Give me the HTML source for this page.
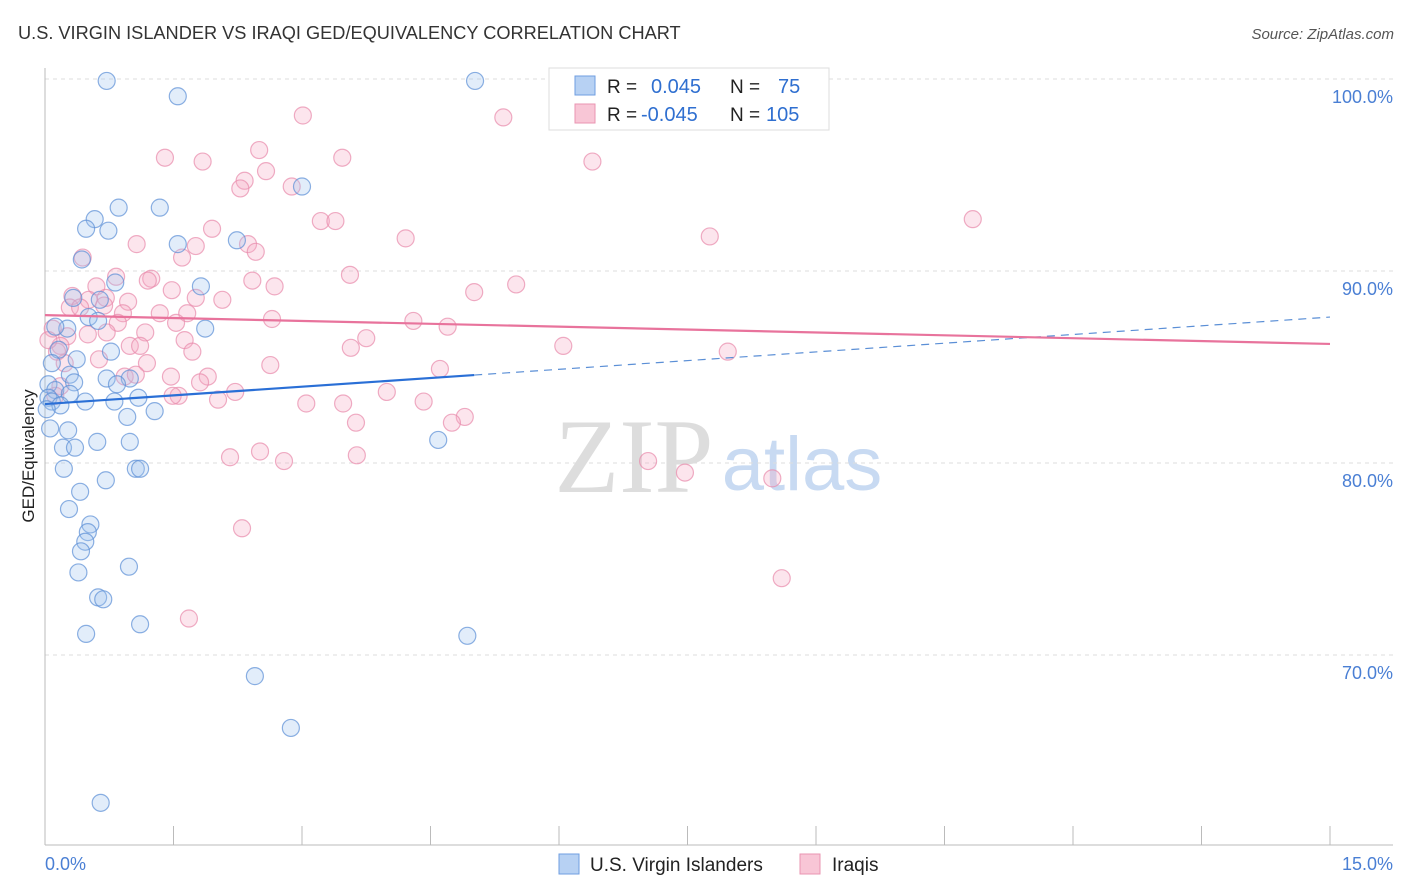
<!DOCTYPE html>
<html><head><meta charset="utf-8"><style>
body{margin:0;background:#fff;font-family:"Liberation Sans",sans-serif;}
#wrap{position:relative;width:1406px;height:892px;overflow:hidden;}
</style></head><body>
<div id="wrap">
<svg id="svg" width="1406" height="892">
<text x="18" y="39" font-size="18.2" fill="#333">U.S. VIRGIN ISLANDER VS IRAQI GED/EQUIVALENCY CORRELATION CHART</text>
<text x="1394" y="39" font-size="15" fill="#555" font-style="italic" text-anchor="end">Source: ZipAtlas.com</text>
<text x="634" y="492" font-size="106" fill="#ddd" font-family="Liberation Serif,serif" text-anchor="middle">ZIP</text>
<text x="802" y="490" font-size="76" fill="#c8daf2" text-anchor="middle">atlas</text>
<text transform="translate(34,456) rotate(-90)" font-size="17" fill="#222" text-anchor="middle">GED/Equivalency</text>
<g id="grid"></g><g id="marks"></g><g id="trend"></g>
<text x="45" y="870" font-size="18" fill="#4a7fd4">0.0%</text>
<text x="1393" y="870" font-size="18" fill="#4a7fd4" text-anchor="end">15.0%</text>
<g>
<rect x="549" y="68" width="280" height="62" fill="#fff" stroke="#ddd"/>
<rect x="575" y="76" width="20" height="19" fill="#b7d1f3" stroke="#6f9ee0"/>
<rect x="575" y="104" width="20" height="19" fill="#f8c6d6" stroke="#ea94b2"/>
<text x="607" y="93" font-size="19" fill="#222">R =</text><text x="651" y="93" font-size="20" fill="#2f6fd0">0.045</text>
<text x="730" y="93" font-size="19" fill="#222">N =</text><text x="778" y="93" font-size="20" fill="#2f6fd0">75</text>
<text x="607" y="121" font-size="19" fill="#222">R =</text><text x="641" y="121" font-size="20" fill="#2f6fd0">-0.045</text>
<text x="730" y="121" font-size="19" fill="#222">N =</text><text x="766" y="121" font-size="20" fill="#2f6fd0">105</text>
</g>
<g>
<rect x="559" y="854" width="20" height="20" fill="#b7d1f3" stroke="#6f9ee0"/>
<text x="590" y="871" font-size="19" fill="#222">U.S. Virgin Islanders</text>
<rect x="800" y="854" width="20" height="20" fill="#f8c6d6" stroke="#ea94b2"/>
<text x="832" y="871" font-size="19" fill="#222">Iraqis</text>
</g>
</svg></div>
<script>
const yTicks=[100,90,80,70];
const yTickLabels=["100.0%","90.0%","80.0%","70.0%"];
const xTicks=[0,1.5,3,4.5,6,7.5,9,10.5,12,13.5,15];
const blueX=[0.72,5.02,1.55,3.00,0.86,1.34,0.58,0.48,0.74,1.55,2.24,0.43,0.82,1.82,0.33,0.64,0.51,0.62,1.87,0.26,0.12,0.16,0.77,0.37,0.08,0.29,0.72,0.99,0.84,0.04,0.34,0.12,0.29,0.04,0.08,0.47,0.81,1.09,0.18,0.02,1.28,0.96,0.06,0.27,0.61,0.99,0.21,0.35,4.59,0.22,1.06,1.11,0.71,0.41,0.28,0.53,0.50,0.47,0.42,0.98,0.39,0.62,0.68,1.11,0.48,4.93,2.45,2.87,0.65];
const blueY=[99.9,99.9,99.1,94.4,93.3,93.3,92.7,92.2,92.1,91.4,91.6,90.6,89.4,89.2,88.6,88.5,87.6,87.4,87.0,87.0,87.1,85.9,85.8,85.4,85.2,84.6,84.4,84.4,84.1,84.1,84.2,83.8,83.6,83.4,83.2,83.2,83.2,83.4,83.0,82.8,82.7,82.4,81.8,81.7,81.1,81.1,80.8,80.8,81.2,79.7,79.7,79.7,79.1,78.5,77.6,76.8,76.4,75.9,75.4,74.6,74.3,73.0,72.9,71.6,71.1,71.0,68.9,66.2,62.3];
const pinkX=[3.01,5.35,1.40,2.50,1.84,3.47,6.39,2.58,2.33,2.28,2.88,3.22,3.39,10.83,1.95,4.21,7.76,1.07,2.37,2.46,1.76,1.60,0.44,1.24,0.83,1.20,2.42,3.56,5.50,2.68,5.01,1.48,0.60,0.32,2.07,1.76,0.51,0.71,0.29,0.97,0.41,0.69,0.91,1.34,1.66,2.65,4.30,4.70,1.53,0.85,0.09,0.50,0.72,0.26,1.17,0.18,1.63,3.75,6.05,3.57,0.99,1.11,7.97,0.14,1.72,0.63,1.19,0.23,2.63,4.61,1.47,0.93,1.90,1.81,1.06,1.56,1.49,2.22,3.99,2.02,3.05,3.48,4.42,4.90,4.75,3.63,2.16,2.51,2.79,3.64,7.04,7.47,8.49,2.30,8.60,1.68,0.04,0.18,0.12];
const pinkY=[98.1,98.0,95.9,96.3,95.7,95.9,95.7,95.2,94.7,94.3,94.4,92.6,92.6,92.7,92.2,91.7,91.8,91.4,91.4,91.0,91.3,90.7,90.7,89.6,89.7,89.5,89.5,89.8,89.3,89.2,88.9,89.0,89.2,88.7,88.5,88.6,88.5,88.6,88.1,88.4,88.1,88.2,87.8,87.8,87.8,87.5,87.4,87.1,87.3,87.3,87.0,86.7,86.8,86.6,86.8,86.1,86.4,86.5,86.1,86.0,86.1,86.1,85.8,85.8,85.8,85.4,85.2,85.2,85.1,84.9,84.5,84.5,84.5,84.2,84.6,83.5,83.5,83.7,83.7,83.3,83.1,83.1,83.2,82.4,82.1,82.1,80.3,80.6,80.1,80.4,80.1,79.5,79.2,76.6,74.0,71.9,86.4,84.0,83.5];
const blueTrend=[83.07,84.58,87.6];
const pinkTrend=[87.7,86.2];
const NS='http://www.w3.org/2000/svg';
function sx(v){return 45+v/15*1285;}
function sy(v){return 79+(100-v)/10*192;}
function mk(tag,attrs,parent){const e=document.createElementNS(NS,tag);for(const k in attrs)e.setAttribute(k,attrs[k]);parent.appendChild(e);return e;}
const grid=document.getElementById('grid'),marks=document.getElementById('marks'),trend=document.getElementById('trend');
yTicks.forEach((t,i)=>{
 const l=mk('line',{x1:45,x2:1393,y1:sy(t),y2:sy(t),stroke:'#ddd','stroke-dasharray':'4,4'},grid);
 
 
 const tx=mk('text',{x:1393,y:sy(t)+24,'font-size':18,fill:'#4a7fd4','text-anchor':'end'},grid);
 tx.textContent=yTickLabels[i];
 
 
});
const ax=mk('line',{x1:45,x2:1393,y1:845,y2:845,stroke:'#bbb'},grid);


const ay=mk('line',{x1:45,x2:45,y1:68,y2:845,stroke:'#bbb'},grid);


xTicks.forEach(t=>{
 const l=mk('line',{x1:sx(t),x2:sx(t),y1:826,y2:845,stroke:'#bbb'},grid);
 
 
});
function pts(xs,ys,fill,stroke,name){xs.forEach((x,i)=>{
 const c=mk('circle',{cx:sx(x),cy:sy(ys[i]),r:8.5,fill:fill,'fill-opacity':0.3,stroke:stroke,'stroke-opacity':0.7,'stroke-width':1.2},marks);
 
 
});}
pts(pinkX,pinkY,'#f4a9c2','#e88aab','iraqi-point');
pts(blueX,blueY,'#9fc3ee','#5b8fd6','virgin-islander-point');
const b1=mk('line',{x1:sx(0),y1:sy(blueTrend[0]),x2:sx(5.01),y2:sy(blueTrend[1]),stroke:'#2a6fd6','stroke-width':2.2},trend);


const b2=mk('line',{x1:sx(5.01),y1:sy(blueTrend[1]),x2:sx(15),y2:sy(blueTrend[2]),stroke:'#5b8fd6','stroke-width':1.2,'stroke-dasharray':'8,6'},trend);


const p1=mk('line',{x1:sx(0),y1:sy(pinkTrend[0]),x2:sx(15),y2:sy(pinkTrend[1]),stroke:'#e8739c','stroke-width':2.2},trend);


</script>
</body></html>
